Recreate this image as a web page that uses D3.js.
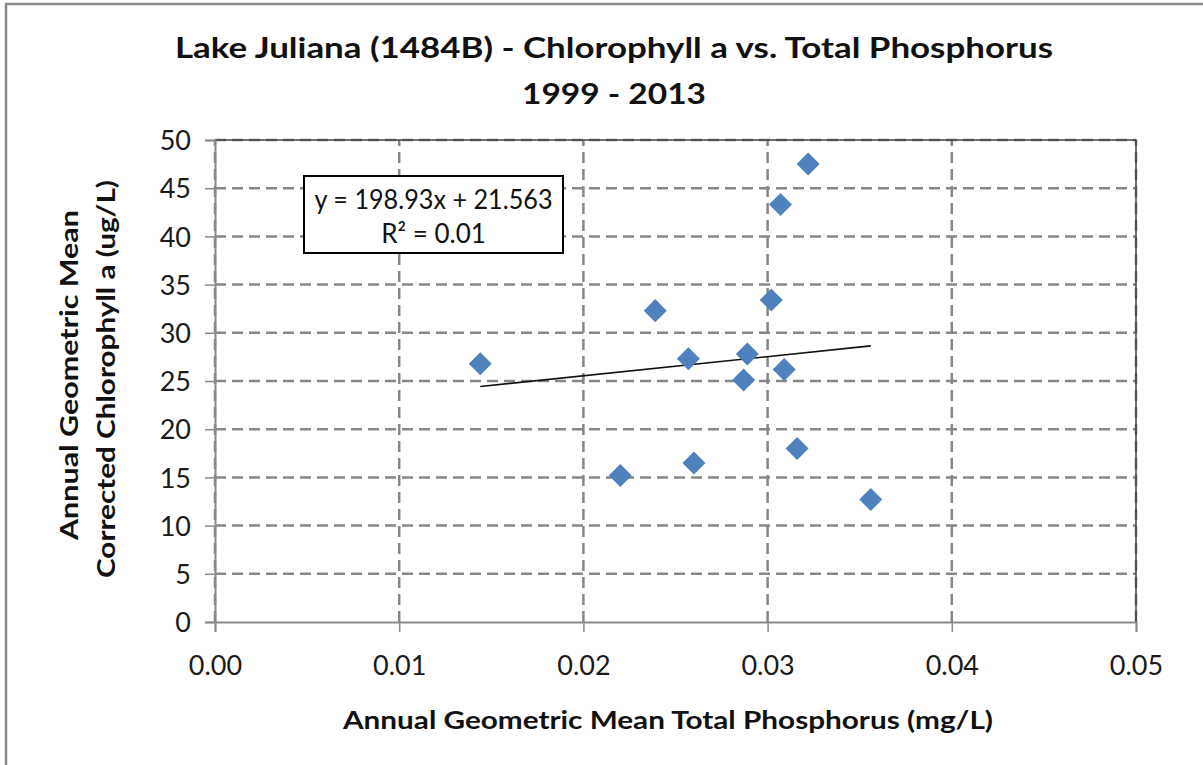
<!DOCTYPE html>
<html><head><meta charset="utf-8">
<script src="https://cdn.jsdelivr.net/npm/d3@7"></script>
<style>body{margin:0;background:#fff}svg{display:block}text{font-family:Lato,"Open Sans",sans-serif}</style>
</head><body>
<svg id="c" width="1203" height="765"></svg>
<script>
const titleLines = ["Lake Juliana (1484B) - Chlorophyll a vs. Total Phosphorus", "1999 - 2013"];
const xTitle = "Annual Geometric Mean Total Phosphorus (mg/L)";
const yTitleLines = ["Annual Geometric Mean", "Corrected Chlorophyll a (ug/L)"];
const tp  = [0.0144, 0.0239, 0.0302, 0.0257, 0.0289, 0.0287, 0.0309, 0.0220, 0.0260, 0.0316, 0.0322, 0.0307, 0.0356];
const chl = [26.8, 32.3, 33.4, 27.3, 27.8, 25.1, 26.2, 15.2, 16.5, 18.0, 47.5, 43.3, 12.7];
const xTicks = [0, 0.01, 0.02, 0.03, 0.04, 0.05];
const yTicks = [0, 5, 10, 15, 20, 25, 30, 35, 40, 45, 50];
const slope = 198.93, intercept = 21.563;
const eqLines = ["y = 198.93x + 21.563", "R² = 0.01"];

const svg = d3.select("#c");
const L = 215, R = 1136, T = 140, B = 622;
const x = d3.scaleLinear().domain([0, 0.05]).range([L, R]);
const y = d3.scaleLinear().domain([0, 50]).range([B, T]);

// outer border
svg.append("rect").attr("x", 6).attr("y", 4).attr("width", 1210).attr("height", 780)
  .attr("fill", "#fff").attr("stroke", "#898989").attr("stroke-width", 2.5);

const grid = "#878787";
svg.append("g").selectAll("line").data(yTicks.filter(d => d > 0)).join("line")
  .attr("x1", L).attr("x2", R).attr("y1", d => y(d)).attr("y2", d => y(d))
  .attr("stroke", grid).attr("stroke-width", 2.5).attr("stroke-dasharray", "11,6");
svg.append("g").selectAll("line").data(xTicks).join("line")
  .attr("y1", B).attr("y2", T).attr("x1", d => x(d)).attr("x2", d => x(d))
  .attr("stroke", grid).attr("stroke-width", 2.5).attr("stroke-dasharray", "11,6");

svg.append("path").attr("d", `M${L},${T}H${R}V${B}`).attr("fill", "none")
  .attr("stroke", "#404040").attr("stroke-width", 1.5);

const fmtX = d3.format(".2f");
const xAxis = svg.append("g").attr("transform", `translate(0,${B})`)
  .call(d3.axisBottom(x).tickValues(xTicks).tickFormat(fmtX).tickSize(10).tickPadding(10));
const yAxis = svg.append("g").attr("transform", `translate(${L},0)`)
  .call(d3.axisLeft(y).tickValues(yTicks).tickSize(10).tickPadding(14));
[xAxis, yAxis].forEach(g => {
  g.select(".domain").attr("stroke", "#8a8a8a").attr("stroke-width", 2);
  g.selectAll(".tick line").attr("stroke", "#8a8a8a").attr("stroke-width", 1.5);
  g.selectAll(".tick text").attr("fill", "#1a1a1a").style("font-family", "Lato, sans-serif").style("font-size", "27px");
});
xAxis.selectAll(".tick text").attr("dy", "0").attr("y", 53);
yAxis.selectAll(".tick text").attr("dy", "0.36em");

const xmin = d3.min(tp), xmax = d3.max(tp);
svg.append("line").attr("x1", x(xmin)).attr("x2", x(xmax))
  .attr("y1", y(slope * xmin + intercept)).attr("y2", y(slope * xmax + intercept))
  .attr("stroke", "#111").attr("stroke-width", 1.6);

const sym = d3.symbol().type(d3.symbolSquare).size(265);
svg.append("g").selectAll("path").data(tp.map((v, i) => [v, chl[i]])).join("path")
  .attr("d", sym).attr("transform", d => `translate(${x(d[0])},${y(d[1])}) rotate(45)`)
  .attr("fill", "#4F81BD");

svg.append("rect").attr("x", 304).attr("y", 176).attr("width", 259).attr("height", 77)
  .attr("fill", "#fff").attr("stroke", "#000").attr("stroke-width", 2);
svg.append("text").attr("x", 433.5).attr("y", 209).attr("text-anchor", "middle")
  .attr("textLength", 238).attr("lengthAdjust", "spacingAndGlyphs")
  .style("font-size", "26px").attr("fill", "#111").text(eqLines[0]);
svg.append("text").attr("x", 433.5).attr("y", 243).attr("text-anchor", "middle")
  .style("font-size", "26px").attr("fill", "#111").text(eqLines[1]);

svg.append("text").attr("x", 614).attr("y", 58).attr("text-anchor", "middle")
  .attr("textLength", 878).attr("lengthAdjust", "spacingAndGlyphs")
  .style("font-size", "29px").style("font-weight", "bold").attr("fill", "#111").text(titleLines[0]);
svg.append("text").attr("x", 614).attr("y", 104).attr("text-anchor", "middle")
  .attr("textLength", 184).attr("lengthAdjust", "spacingAndGlyphs")
  .style("font-size", "29px").style("font-weight", "bold").attr("fill", "#111").text(titleLines[1]);

svg.append("text").attr("x", 668).attr("y", 729).attr("text-anchor", "middle")
  .attr("textLength", 650).attr("lengthAdjust", "spacingAndGlyphs")
  .style("font-size", "24px").style("font-weight", "bold").attr("fill", "#111").text(xTitle);

const yt = [[78, 375, 330], [115, 379, 398]];
yTitleLines.forEach((t, i) => {
  svg.append("text").attr("transform", `translate(${yt[i][0]},${yt[i][1]}) rotate(-90)`)
    .attr("text-anchor", "middle").attr("textLength", yt[i][2]).attr("lengthAdjust", "spacingAndGlyphs")
    .style("font-size", "25px").style("font-weight", "bold").attr("fill", "#111").text(t);
});
</script>
</body></html>
